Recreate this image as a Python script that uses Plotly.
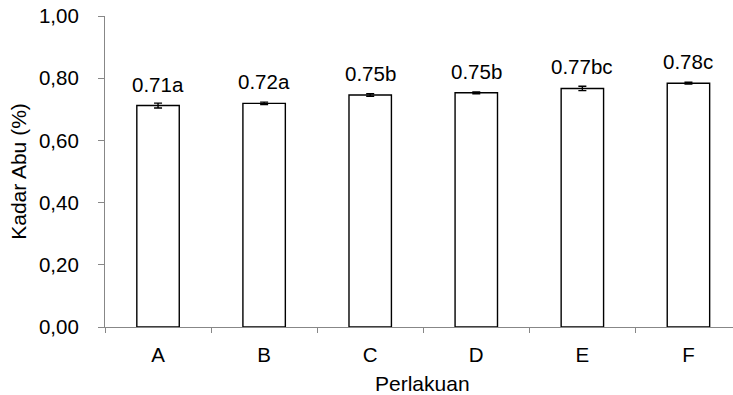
import plotly.graph_objects as go

categories = ["A", "B", "C", "D", "E", "F"]
values = [0.712, 0.719, 0.746, 0.753, 0.767, 0.784]
errors = [0.008, 0.004, 0.004, 0.003, 0.007, 0.003]
labels = ["0.71a", "0.72a", "0.75b", "0.75b", "0.77bc", "0.78c"]
yticks = [0.0, 0.2, 0.4, 0.6, 0.8, 1.0]
yticktext = ["0,00", "0,20", "0,40", "0,60", "0,80", "1,00"]

FONT = "Liberation Sans, Arial, sans-serif"
FS = 20.5

fig = go.Figure()
fig.add_trace(go.Bar(
    x=categories, y=values, width=0.40,
    marker=dict(color="white", line=dict(color="black", width=1.4)),
    error_y=dict(type="data", array=errors, color="black", thickness=1.4, width=4),
))

for c, v, t in zip(categories, values, labels):
    fig.add_annotation(x=c, y=v, text=t, showarrow=False, yanchor="bottom",
                       yshift=8, font=dict(family=FONT, size=FS, color="black"))

fig.add_annotation(text="Perlakuan", xref="paper", yref="paper", x=0.506, y=-0.183,
                   xanchor="center", yanchor="middle", showarrow=False,
                   font=dict(family=FONT, size=21, color="black"))

fig.update_layout(
    width=733, height=395,
    margin=dict(l=105, r=0, t=16, b=68),
    paper_bgcolor="white", plot_bgcolor="white",
    showlegend=False,
    font=dict(family=FONT, size=FS, color="black"),
    xaxis=dict(
        range=[-0.5, 5.42], showline=True, linecolor="#878787", linewidth=1.2,
        ticks="outside", tickson="boundaries", ticklen=5, tickcolor="#878787", tickwidth=1.2,
        ticklabelstandoff=9,
        tickfont=dict(family=FONT, size=FS, color="black"),
        showgrid=False, zeroline=False,
    ),
    yaxis=dict(
        range=[0, 1.0], showline=True, linecolor="#878787", linewidth=1.2,
        tickvals=yticks, ticktext=yticktext,
        ticks="outside", ticklen=6, tickcolor="#878787", tickwidth=1.2,
        ticklabelstandoff=15,
        tickfont=dict(family=FONT, size=FS, color="black"),
        title=dict(text="Kadar Abu (%)", font=dict(family=FONT, size=21, color="black"), standoff=6),
        showgrid=False, zeroline=False,
    ),
)

fig.write_html("out.html")
